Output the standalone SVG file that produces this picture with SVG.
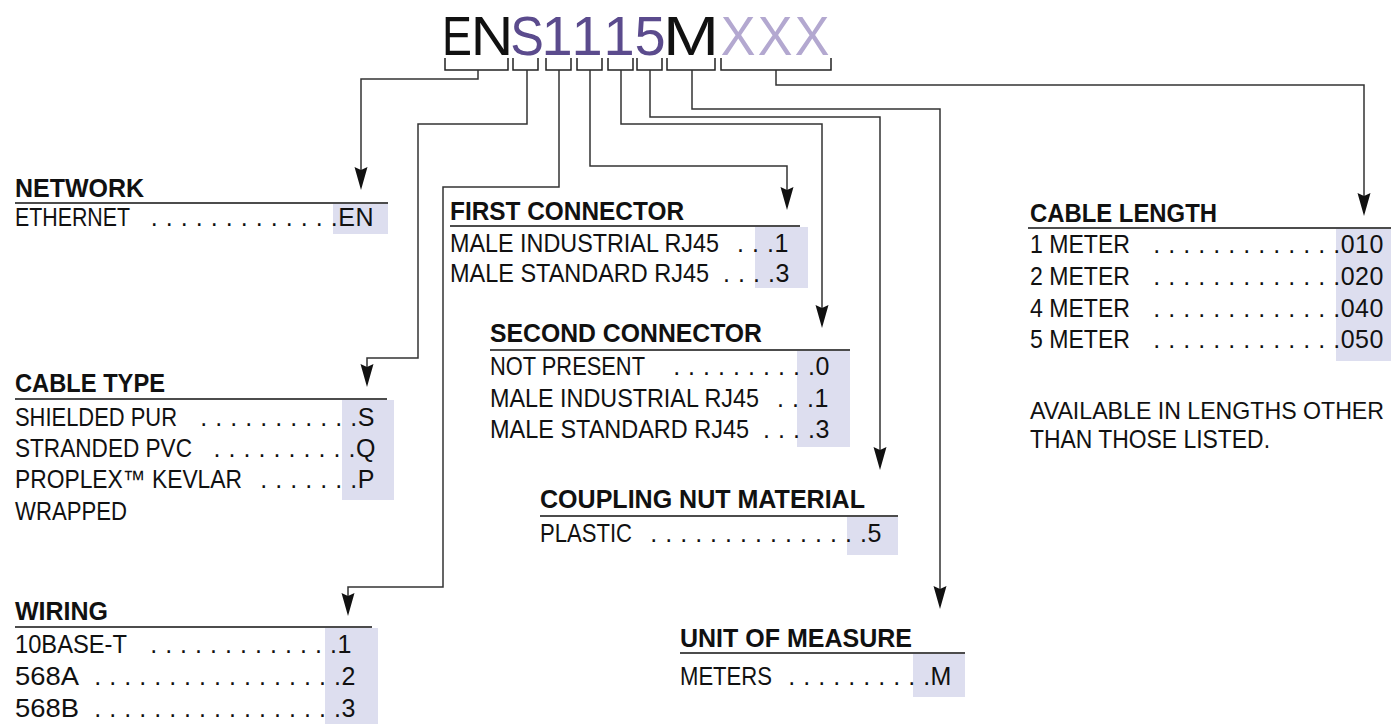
<svg xmlns="http://www.w3.org/2000/svg" width="1391" height="724" viewBox="0 0 1391 724">
<style>
.t{font-family:"Liberation Sans",Arial,sans-serif;font-size:25px;fill:#111}
.h{font-family:"Liberation Sans",Arial,sans-serif;font-size:25px;font-weight:bold;fill:#111}
.d{font-family:"Liberation Sans",Arial,sans-serif;font-size:25px;fill:#111;text-anchor:end;letter-spacing:0.55px}
.big{font-family:"Liberation Sans",Arial,sans-serif;font-size:56px;text-anchor:middle}
.k{fill:#111}.p{fill:#5b4b8d}.x{fill:#b3a8d0}
.hl{fill:#dddeef}
.ul{stroke:#111;stroke-width:1.5;fill:none}
.br{stroke:#222;stroke-width:1.5;fill:none}
.c{stroke:#333;stroke-width:1.5;fill:none;marker-end:url(#ah)}
</style>
<defs>
<marker id="ah" viewBox="-24 -7 25 14" refX="-4" refY="0" markerWidth="25" markerHeight="14" markerUnits="userSpaceOnUse" orient="auto">
<path d="M0,0 L-23,-6.5 L-20,0 L-23,6.5 Z" fill="#111"/>
</marker>
</defs>
<rect width="1391" height="724" fill="#fff"/>

<g id="code">
<text class="big k" transform="translate(457,55) scale(0.8,1)">E</text>
<text class="big k" transform="translate(492,55) scale(1.05,1)">N</text>
<text class="big p" transform="translate(527,55) scale(0.9,1)">S</text>
<text class="big p" transform="translate(557,55)">1</text>
<text class="big p" transform="translate(587,55)">1</text>
<text class="big p" transform="translate(619,55)">1</text>
<text class="big p" transform="translate(650,55)">5</text>
<text class="big k" transform="translate(691,55) scale(1.2,1)">M</text>
<text class="big x" transform="translate(738,55) scale(0.93,1)">X</text>
<text class="big x" transform="translate(775,55) scale(0.93,1)">X</text>
<text class="big x" transform="translate(812,55) scale(0.93,1)">X</text>
<path class="br" d="M445,58V70H508V58"/>
<path class="br" d="M513,58V70H538V58"/>
<path class="br" d="M546,58V70H571V58"/>
<path class="br" d="M577,58V70H602V58"/>
<path class="br" d="M608,58V70H633V58"/>
<path class="br" d="M637,58V70H662V58"/>
<path class="br" d="M667,58V70H715V58"/>
<path class="br" d="M721,58V70H831V58"/>
</g>

<g id="connectors">
<path class="c" d="M478,70V79H361V186"/>
<path class="c" d="M527,70V124H418V358H367V383"/>
<path class="c" d="M559,70V187H443V587H348V612"/>
<path class="c" d="M590,70V166H787V206"/>
<path class="c" d="M621,70V124H822V324"/>
<path class="c" d="M650,70V117H880V466"/>
<path class="c" d="M692,70V109H940V605"/>
<path class="c" d="M776,70V85H1364V212"/>
</g>

<g id="network">
<rect class="hl" x="333" y="204" width="55" height="30"/>
<text class="h" x="15" y="197">NETWORK</text>
<line class="ul" x1="15" y1="203" x2="388" y2="203"/>
<text class="t" x="15" y="226" textLength="115" lengthAdjust="spacingAndGlyphs">ETHERNET</text>
<text class="d" x="374" y="226">. . . . . . . . . . . . .EN</text>
</g>

<g id="cable-type">
<rect class="hl" x="342" y="400" width="52" height="100"/>
<text class="h" x="15" y="392" textLength="150" lengthAdjust="spacingAndGlyphs">CABLE TYPE</text>
<line class="ul" x1="15" y1="399" x2="387" y2="399"/>
<text class="t" x="15" y="426" textLength="162" lengthAdjust="spacingAndGlyphs">SHIELDED PUR</text>
<text class="d" x="375" y="426">. . . . . . . . . . .S</text>
<text class="t" x="15" y="457" textLength="177" lengthAdjust="spacingAndGlyphs">STRANDED PVC</text>
<text class="d" x="376" y="457">. . . . . . . . . .Q</text>
<text class="t" x="15" y="488" textLength="227" lengthAdjust="spacingAndGlyphs">PROPLEX™ KEVLAR</text>
<text class="d" x="375" y="488">. . . . . . .P</text>
<text class="t" x="15" y="520" textLength="112" lengthAdjust="spacingAndGlyphs">WRAPPED</text>
</g>

<g id="wiring">
<rect class="hl" x="325" y="628" width="53" height="96"/>
<text class="h" x="15" y="620">WIRING</text>
<line class="ul" x1="15" y1="627" x2="372" y2="627"/>
<text class="t" x="15" y="653" textLength="112" lengthAdjust="spacingAndGlyphs">10BASE-T</text>
<text class="d" x="352" y="653">. . . . . . . . . . . . .1</text>
<text class="t" x="15" y="685" textLength="64" lengthAdjust="spacingAndGlyphs">568A</text>
<text class="d" x="356" y="685">. . . . . . . . . . . . . . . . .2</text>
<text class="t" x="15" y="717" textLength="64" lengthAdjust="spacingAndGlyphs">568B</text>
<text class="d" x="356" y="717">. . . . . . . . . . . . . . . . .3</text>
</g>

<g id="first-connector">
<rect class="hl" x="755" y="227" width="53" height="61"/>
<text class="h" x="450" y="220" textLength="234" lengthAdjust="spacingAndGlyphs">FIRST CONNECTOR</text>
<line class="ul" x1="450" y1="226" x2="800" y2="226"/>
<text class="t" x="450" y="252" textLength="269" lengthAdjust="spacingAndGlyphs">MALE INDUSTRIAL RJ45</text>
<text class="d" x="789" y="252">. . .1</text>
<text class="t" x="450" y="282" textLength="259" lengthAdjust="spacingAndGlyphs">MALE STANDARD RJ45</text>
<text class="d" x="790" y="282">. . . .3</text>
</g>

<g id="second-connector">
<rect class="hl" x="797" y="351" width="53" height="96"/>
<text class="h" x="490" y="342" textLength="272" lengthAdjust="spacingAndGlyphs">SECOND CONNECTOR</text>
<line class="ul" x1="490" y1="350" x2="850" y2="350"/>
<text class="t" x="490" y="375" textLength="155" lengthAdjust="spacingAndGlyphs">NOT PRESENT</text>
<text class="d" x="830" y="375">. . . . . . . . . .0</text>
<text class="t" x="490" y="407" textLength="269" lengthAdjust="spacingAndGlyphs">MALE INDUSTRIAL RJ45</text>
<text class="d" x="829" y="407">. . .1</text>
<text class="t" x="490" y="438" textLength="259" lengthAdjust="spacingAndGlyphs">MALE STANDARD RJ45</text>
<text class="d" x="830" y="438">. . . .3</text>
</g>

<g id="coupling-nut-material">
<rect class="hl" x="847" y="517" width="51" height="38"/>
<text class="h" x="540" y="508" textLength="325" lengthAdjust="spacingAndGlyphs">COUPLING NUT MATERIAL</text>
<line class="ul" x1="540" y1="516" x2="898" y2="516"/>
<text class="t" x="540" y="542" textLength="92" lengthAdjust="spacingAndGlyphs">PLASTIC</text>
<text class="d" x="882" y="542">. . . . . . . . . . . . . . .5</text>
</g>

<g id="unit-of-measure">
<rect class="hl" x="913" y="654" width="52" height="43"/>
<text class="h" x="680" y="647" textLength="232" lengthAdjust="spacingAndGlyphs">UNIT OF MEASURE</text>
<line class="ul" x1="680" y1="653" x2="965" y2="653"/>
<text class="t" x="680" y="685" textLength="92" lengthAdjust="spacingAndGlyphs">METERS</text>
<text class="d" x="952" y="685">. . . . . . . . . .M</text>
</g>

<g id="cable-length">
<rect class="hl" x="1336" y="229" width="55" height="132"/>
<text class="h" x="1030" y="222" textLength="187" lengthAdjust="spacingAndGlyphs">CABLE LENGTH</text>
<line class="ul" x1="1028" y1="228" x2="1391" y2="228"/>
<text class="t" x="1030" y="253" textLength="100" lengthAdjust="spacingAndGlyphs">1 METER</text>
<text class="d" x="1384" y="253">. . . . . . . . . . . . .010</text>
<text class="t" x="1030" y="285" textLength="100" lengthAdjust="spacingAndGlyphs">2 METER</text>
<text class="d" x="1384" y="285">. . . . . . . . . . . . .020</text>
<text class="t" x="1030" y="317" textLength="100" lengthAdjust="spacingAndGlyphs">4 METER</text>
<text class="d" x="1384" y="317">. . . . . . . . . . . . .040</text>
<text class="t" x="1030" y="348" textLength="100" lengthAdjust="spacingAndGlyphs">5 METER</text>
<text class="d" x="1384" y="348">. . . . . . . . . . . . .050</text>
<text class="t" x="1030" y="419" style="font-size:23.2px" textLength="354" lengthAdjust="spacingAndGlyphs">AVAILABLE IN LENGTHS OTHER</text>
<text class="t" x="1030" y="448" textLength="240" lengthAdjust="spacingAndGlyphs">THAN THOSE LISTED.</text>
</g>
</svg>
